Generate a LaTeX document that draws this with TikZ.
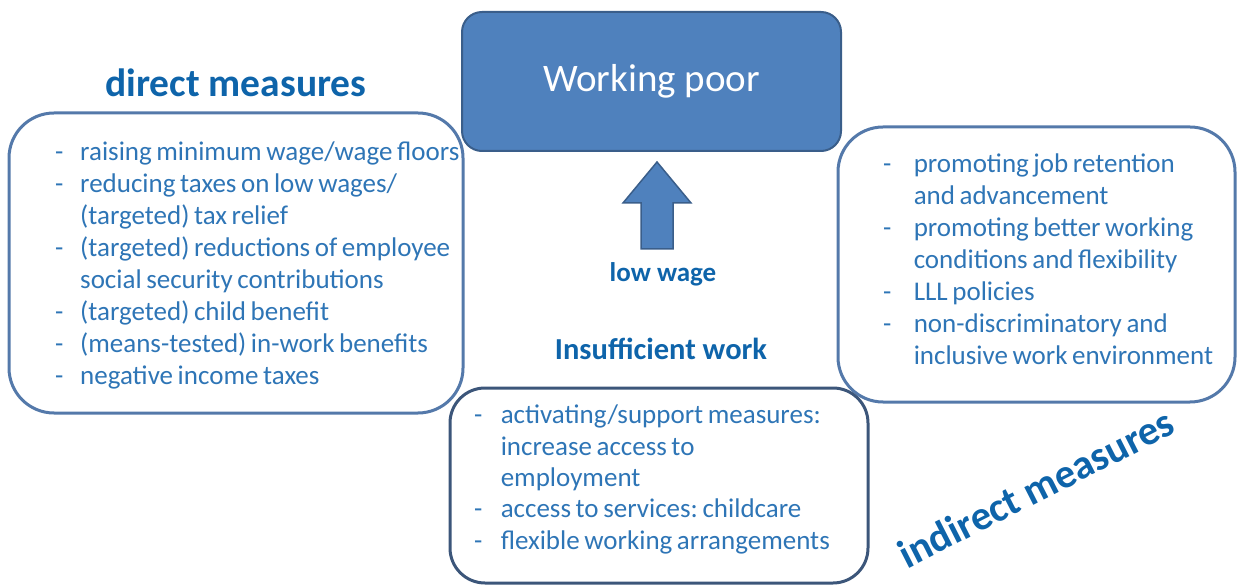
\documentclass[tikz,border=0pt]{standalone}
\usepackage{fontspec}
\setmainfont{Carlito}
\newfontfamily\listfont{Carlito}[WordSpace=0.75]
\usetikzlibrary{positioning}
\frenchspacing

\definecolor{poorfill}{RGB}{79,129,189}
\definecolor{poorline}{RGB}{58,94,138}
\definecolor{boxline}{RGB}{84,121,170}
\definecolor{workline}{RGB}{60,86,122}
\definecolor{listblue}{RGB}{46,117,182}
\definecolor{headblue}{RGB}{14,100,170}

\newcommand{\itm}[1][25pt]{\makebox[#1][l]{-}}
\newcommand{\cnt}[1][25pt]{\hspace*{#1}}

\begin{document}
\begin{tikzpicture}[
    x=1pt,
    y=-1pt,
    measurebox/.style={draw=boxline, line width=3pt, rounded corners=45pt},
    listtext/.style={text=listblue, align=left, inner sep=0pt, anchor=north west,
        font=\listfont\fontsize{27}{31.9}\selectfont},
    heading/.style={text=headblue, inner sep=0pt, font=\fontsize{39.5}{44}\selectfont\bfseries},
    uparrow/.style={fill=poorfill, draw=poorline, line width=1.5pt, line join=miter}
]
	\useasboundingbox (0,0) rectangle (1240,585);

	% top box
	\node[fill=poorfill, draw=poorline, line width=2pt, rounded corners=20pt,
	    minimum width=379pt, minimum height=139pt, text=white,
	    font=\fontsize{39}{44}\selectfont] (poor) at (651.5,81.5) {Working poor};

	% the three boxes of measures
	\node[measurebox, minimum width=454pt, minimum height=300pt] (direct) at (236,263) {};
	\node[measurebox, minimum width=397pt, minimum height=275pt] (indirect) at (1036.5,264.5) {};
	\node[measurebox, draw=workline, rounded corners=35pt,
	    minimum width=418pt, minimum height=195pt] (work) at (659,485.5) {};

	\node[heading] (directhead) at (236,83) {direct measures};
	\node[heading, rotate=27, font=\fontsize{41}{46}\selectfont\bfseries] (indirecthead) at (1036,488) {indirect measures};
	\node[heading, font=\fontsize{27}{32}\selectfont\bfseries] (lowwage) at (663,274) {low wage};
	\node[heading, font=\fontsize{30.5}{34}\selectfont\bfseries] (insuff) at (661,349) {Insufficient work};

	\draw[uparrow] (641,249) -- (641,203) -- (623,203) -- (657,162)
	    -- (691,203) -- (673,203) -- (673,249) -- cycle;

	\node[listtext] (directlist) at (55,142) {
	    \itm raising minimum wage/wage floors\\
	    \itm reducing taxes on low wages/\\
	    \cnt (targeted) tax relief\\
	    \itm (targeted) reductions of employee\\
	    \cnt social security contributions\\
	    \itm (targeted) child benefit\\
	    \itm (means-tested) in-work benefits\\
	    \itm negative income taxes};
	\node[listtext] (indirectlist) at (883,154) {
	    \itm[26pt] promoting job retention\\
	    \cnt[26pt] and advancement\\
	    \itm[26pt] promoting better working\\
	    \cnt[26pt] conditions and flexibility\\
	    \itm[26pt] LLL policies\\
	    \itm[26pt] non-discriminatory and\\
	    \cnt[26pt] inclusive work environment};
	\node[listtext, font=\listfont\fontsize{27}{31.3}\selectfont] (worklist) at (474,405) {
	    \itm[22pt] activating/support measures:\\
	    \cnt[22pt] increase access to\\
	    \cnt[22pt] employment\\
	    \itm[22pt] access to services: childcare\\
	    \itm[22pt] flexible working arrangements};
\end{tikzpicture}
\end{document}
